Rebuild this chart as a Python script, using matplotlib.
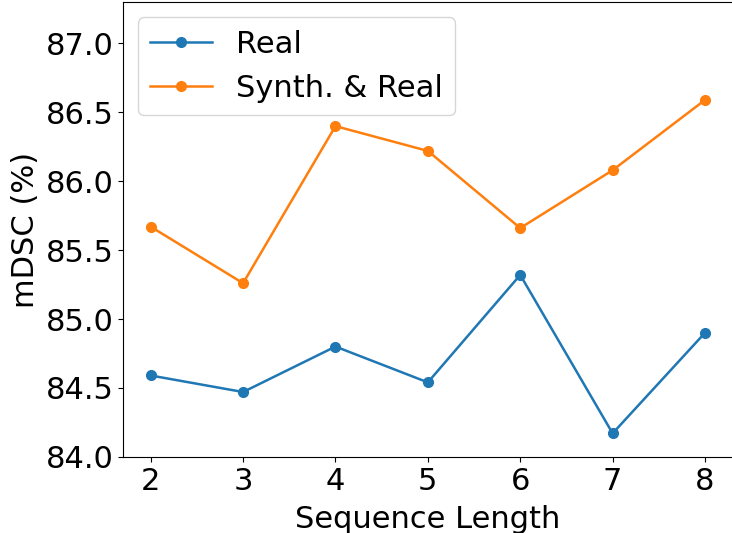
import matplotlib.pyplot as plt

# Sequence length vs mDSC
seq_len = [2, 3, 4, 5, 6, 7, 8]
real = [84.59, 84.47, 84.80, 84.54, 85.32, 84.17, 84.90]
synth_real = [85.67, 85.26, 86.40, 86.22, 85.66, 86.08, 86.59]

plt.rcParams['font.size'] = 22

fig, ax = plt.subplots(figsize=(7.32, 5.33), dpi=100)
ax.plot(seq_len, real, marker='o', markersize=7, linewidth=1.8, label='Real')
ax.plot(seq_len, synth_real, marker='o', markersize=7, linewidth=1.8, label='Synth. & Real')

ax.set_ylim(84.0, 87.3)
ax.set_xticks(seq_len)
ax.set_yticks([84.0, 84.5, 85.0, 85.5, 86.0, 86.5, 87.0])
ax.set_xlabel('Sequence Length', labelpad=7)
ax.set_ylabel('mDSC (%)')
ax.legend(loc='upper left')

plt.subplots_adjust(left=0.168, right=1.001, top=0.996, bottom=0.143)
plt.savefig('out.png')
